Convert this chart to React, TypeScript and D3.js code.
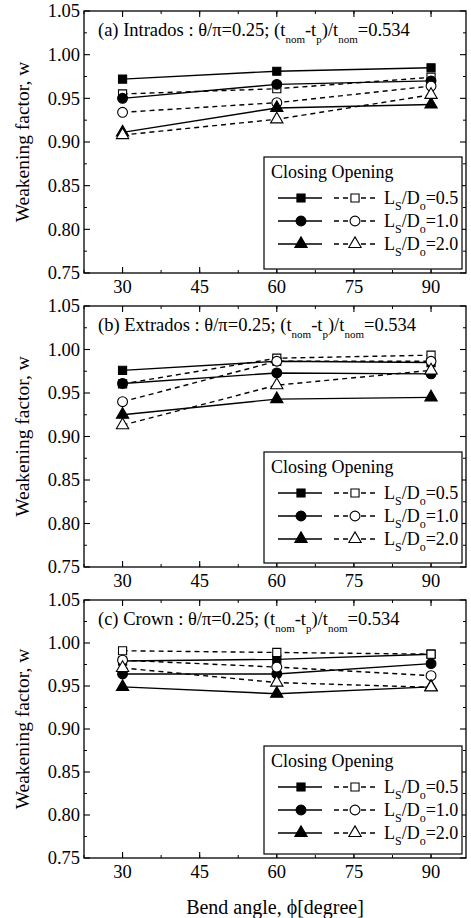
import React from 'react';
import * as d3 from 'd3';

// ---------- data ----------
const angles = [30, 60, 90];
const panelNames = ['(a) Intrados', '(b) Extrados', '(c) Crown'];
const ratioLabels = ['0.5', '1.0', '2.0'];
const xTickValues = [30, 45, 60, 75, 90];
const yTickValues = [0.75, 0.8, 0.85, 0.9, 0.95, 1.0, 1.05];

// (a) Intrados
const aClosing05 = [0.972, 0.981, 0.985];
const aOpening05 = [0.955, 0.961, 0.974];
const aClosing10 = [0.950, 0.966, 0.970];
const aOpening10 = [0.934, 0.945, 0.964];
const aClosing20 = [0.911, 0.939, 0.943];
const aOpening20 = [0.908, 0.926, 0.954];

// (b) Extrados
const bClosing05 = [0.976, 0.9865, 0.985];
const bOpening05 = [0.9605, 0.990, 0.9935];
const bClosing10 = [0.961, 0.973, 0.972];
const bOpening10 = [0.940, 0.9865, 0.9865];
const bClosing20 = [0.925, 0.943, 0.945];
const bOpening20 = [0.913, 0.959, 0.976];

// (c) Crown
const cClosing05 = [0.979, 0.981, 0.987];
const cOpening05 = [0.991, 0.989, 0.987];
const cClosing10 = [0.964, 0.964, 0.976];
const cOpening10 = [0.980, 0.972, 0.962];
const cClosing20 = [0.949, 0.941, 0.949];
const cOpening20 = [0.971, 0.954, 0.9485];

const panelData = [
  [aClosing05, aOpening05, aClosing10, aOpening10, aClosing20, aOpening20],
  [bClosing05, bOpening05, bClosing10, bOpening10, bClosing20, bOpening20],
  [cClosing05, cOpening05, cClosing10, cOpening10, cClosing20, cOpening20],
];

// ---------- layout ----------
const W = 471;
const H = 918;
const LEFT = 84;
const RIGHT = 466;
const PANELS = [
  { top: 11, bottom: 273 },
  { top: 306, bottom: 567 },
  { top: 600, bottom: 858 },
];
const FONT = '"Liberation Serif", "Times New Roman", Times, serif';

const symTypes = [d3.symbolSquare, d3.symbolCircle, d3.symbolTriangle];
const symSizes = [66, 76, 66];

function marker(i: number) {
  return d3.symbol().type(symTypes[i]).size(symSizes[i])() as string;
}

function LsDo({ x, y, val }: { x: number; y: number; val: string }) {
  return (
    <text x={x} y={y} fontFamily={FONT} fontSize={18} fill="#000">
      L<tspan fontSize={12} dy={6}>S</tspan>
      <tspan dy={-6}>/D</tspan>
      <tspan fontSize={12} dy={6}>o</tspan>
      <tspan dy={-6}>={val}</tspan>
    </text>
  );
}

function Panel({ idx }: { idx: number }) {
  const { top, bottom } = PANELS[idx];
  const x = d3.scaleLinear().domain([22.5, 96.8]).range([LEFT, RIGHT]);
  const y = d3.scaleLinear().domain([0.75, 1.05]).range([bottom, top]);
  const line = d3
    .line<[number, number]>()
    .x((d) => x(d[0]))
    .y((d) => y(d[1]));
  const series = panelData[idx];

  const xMinor = d3.range(22.5, 97, 7.5);
  const yMinor = d3.range(0.775, 1.05, 0.05);

  const boxTop = top + 146;
  const boxBottom = bottom - 4;
  const boxLeft = 264;
  const boxRight = 462;
  const mid = (top + bottom) / 2;

  return (
    <g>
      {/* frame */}
      <rect x={LEFT} y={top} width={RIGHT - LEFT} height={bottom - top} fill="none" stroke="#000" strokeWidth={1.3} />
      {/* x ticks */}
      {xTickValues.map((t) => (
        <g key={'xt' + t}>
          <line x1={x(t)} x2={x(t)} y1={bottom} y2={bottom - 6} stroke="#000" strokeWidth={1.1} />
          <line x1={x(t)} x2={x(t)} y1={top} y2={top + 6} stroke="#000" strokeWidth={1.1} />
          <text x={x(t)} y={bottom + 20} textAnchor="middle" fontFamily={FONT} fontSize={18.5}>
            {t}
          </text>
        </g>
      ))}
      {xMinor.map((t) => (
        <g key={'xm' + t}>
          <line x1={x(t)} x2={x(t)} y1={bottom} y2={bottom - 3} stroke="#000" strokeWidth={1} />
          <line x1={x(t)} x2={x(t)} y1={top} y2={top + 3} stroke="#000" strokeWidth={1} />
        </g>
      ))}
      {/* y ticks */}
      {yTickValues.map((t) => (
        <g key={'yt' + t}>
          <line x1={LEFT} x2={LEFT + 6} y1={y(t)} y2={y(t)} stroke="#000" strokeWidth={1.1} />
          <line x1={RIGHT} x2={RIGHT - 6} y1={y(t)} y2={y(t)} stroke="#000" strokeWidth={1.1} />
          <text x={LEFT - 4} y={y(t)} dy="0.35em" textAnchor="end" fontFamily={FONT} fontSize={18.5}>
            {d3.format('.2f')(t)}
          </text>
        </g>
      ))}
      {yMinor.map((t) => (
        <g key={'ym' + t}>
          <line x1={LEFT} x2={LEFT + 3} y1={y(t)} y2={y(t)} stroke="#000" strokeWidth={1} />
          <line x1={RIGHT} x2={RIGHT - 3} y1={y(t)} y2={y(t)} stroke="#000" strokeWidth={1} />
        </g>
      ))}
      {/* y label */}
      <text
        transform={`translate(22,${mid}) rotate(-90)`}
        textAnchor="middle"
        dy="0.35em"
        fontFamily={FONT}
        fontSize={19.5}
      >
        Weakening factor, w
      </text>
      {/* title */}
      <text x={LEFT + 14} y={top + 25} fontFamily={FONT} fontSize={18.5}>
        {panelNames[idx]} : θ/π=0.25; (t<tspan fontSize={11} dy={7}>nom</tspan>
        <tspan dy={-7}>-t</tspan>
        <tspan fontSize={11} dy={7}>p</tspan>
        <tspan dy={-7}>)/t</tspan>
        <tspan fontSize={11} dy={7}>nom</tspan>
        <tspan dy={-7}>=0.534</tspan>
      </text>
      {/* series */}
      {series.map((vals, si) => {
        const open = si % 2 === 1;
        const sym = Math.floor(si / 2);
        const pts = angles.map((a, i) => [a, vals[i]] as [number, number]);
        return (
          <g key={'s' + si}>
            <path
              d={line(pts) as string}
              fill="none"
              stroke="#000"
              strokeWidth={1.4}
              strokeDasharray={open ? '5,4' : undefined}
            />
            {pts.map((p, i) => (
              <path
                key={i}
                d={marker(sym)}
                transform={`translate(${x(p[0])},${y(p[1])})`}
                fill={open ? '#fff' : '#000'}
                stroke="#000"
                strokeWidth={1.1}
              />
            ))}
          </g>
        );
      })}
      {/* legend */}
      <rect x={boxLeft} y={boxTop} width={boxRight - boxLeft} height={boxBottom - boxTop} fill="#fff" stroke="#000" strokeWidth={1.2} />
      <text x={boxLeft + 7} y={boxTop + 21} fontFamily={FONT} fontSize={18}>
        Closing Opening
      </text>
      {ratioLabels.map((lab, i) => {
        const ry = boxTop + 41 + i * 23;
        return (
          <g key={'lg' + i}>
            <line x1={278} x2={322} y1={ry} y2={ry} stroke="#000" strokeWidth={1.4} />
            <path d={marker(i)} transform={`translate(301,${ry})`} fill="#000" stroke="#000" strokeWidth={1.1} />
            <line x1={334} x2={377} y1={ry} y2={ry} stroke="#000" strokeWidth={1.4} strokeDasharray="5,4" />
            <path d={marker(i)} transform={`translate(355,${ry})`} fill="#fff" stroke="#000" strokeWidth={1.1} />
            <LsDo x={384} y={ry + 6} val={lab} />
          </g>
        );
      })}
    </g>
  );
}

export default function App() {
  return (
    <svg
      width={W}
      height={H}
      viewBox={`0 0 ${W} ${H}`}
      style={{ position: 'absolute', left: 0, top: 0, background: '#fff' }}
    >
      <rect x={0} y={0} width={W} height={H} fill="#fff" />
      {PANELS.map((_, i) => (
        <Panel key={i} idx={i} />
      ))}
      <text x={(LEFT + RIGHT) / 2} y={907} dy="0.35em" textAnchor="middle" fontFamily={FONT} fontSize={20}>
        Bend angle, ϕ[degree]
      </text>
    </svg>
  );
}
